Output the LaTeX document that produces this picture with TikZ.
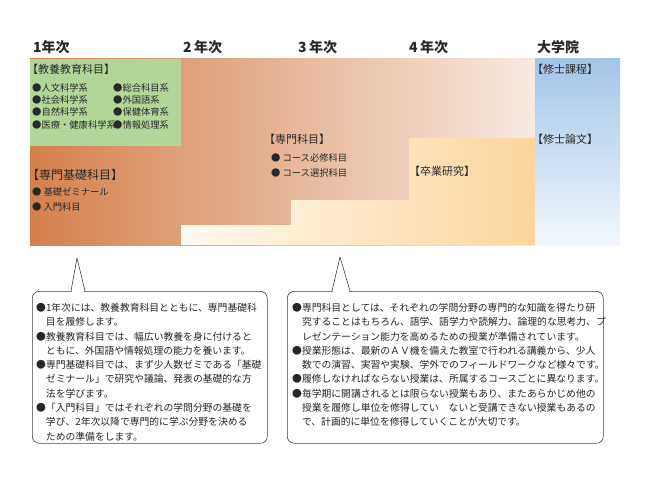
\documentclass[tikz,border=0pt]{standalone}
\usepackage{fontspec}
\setmainfont{Noto Sans CJK JP}
\usetikzlibrary{calc}
\definecolor{txt}{RGB}{40,40,40}
\definecolor{kyoyo}{RGB}{178,214,152}
\definecolor{orgL}{RGB}{213,128,76}
\definecolor{orgR}{RGB}{247,234,225}
\definecolor{crmL}{RGB}{255,249,238}
\definecolor{crmR}{RGB}{252,214,156}
\definecolor{bluT}{RGB}{164,197,232}
\definecolor{bluB}{RGB}{242,247,252}
\tikzset{
	year/.style={anchor=west, inner sep=0pt, text=txt, font=\fontsize{14}{14}\selectfont\bfseries},
	head/.style={anchor=west, inner sep=0pt, text=txt, font=\fontsize{11}{11}\selectfont},
	item/.style={anchor=west, inner sep=0pt, text=txt, font=\fontsize{9.3}{9.3}\selectfont},
	notebox/.style={draw=black!75, line width=0.6pt, rounded corners=7pt, fill=white, inner sep=0pt},
	notetext/.style={anchor=north west, inner sep=0pt, align=left, text=black!85, font=\fontsize{9.8}{14.3}\selectfont}
}
\begin{document}
\begin{tikzpicture}[x=1pt,y=-1pt,line join=round]
	\useasboundingbox (0,0) rectangle (650,500);
	\shade[left color=orgL, right color=orgR] (30,59) rectangle (535,245);
	\shade[left color=crmL, right color=crmR] (181,225) -- (291,225) -- (291,200) -- (409,200) -- (409,138) -- (535,138) -- (535,245) -- (181,245) -- cycle;
	\fill[kyoyo] (30,59) rectangle (181,146);
	\shade[top color=bluT, bottom color=bluB] (535,59) rectangle (620,245);
	\node[year] (y1) at (33,47) {1年次};
	\node[year] (y2) at (183,47) {2\,年次};
	\node[year] (y3) at (298,47) {3\,年次};
	\node[year] (y4) at (409,47) {4\,年次};
	\node[year] (y5) at (537,47) {大学院};
	\node[head] (kyoyo) at (27,69) {【教養教育科目】};
	\node[item] (k1) at (32,88) {●人文科学系};
	\node[item] (k2) at (32,100) {●社会科学系};
	\node[item] (k3) at (32,112) {●自然科学系};
	\node[item] (k4) at (32,125) {●医療・健康科学系};
	\node[item] (k5) at (113,88) {●総合科目系};
	\node[item] (k6) at (113,100) {●外国語系};
	\node[item] (k7) at (113,112) {●保健体育系};
	\node[item] (k8) at (113,125) {●情報処理系};
	\node[head, font=\fontsize{12}{12}\selectfont] (kiso) at (27,175) {【専門基礎科目】};
	\node[item] (s1) at (32,192) {● 基礎ゼミナール};
	\node[item] (s2) at (32,207) {● 入門科目};
	\node[head] (senmon) at (264,139) {【専門科目】};
	\node[item] (c1) at (271,158) {● コース必修科目};
	\node[item] (c2) at (271,173) {● コース選択科目};
	\node[head] (sotsu) at (409,171) {【卒業研究】};
	\node[head] (shushi) at (532,69) {【修士課程】};
	\node[head] (ronbun) at (532,139) {【修士論文】};
	\node[notebox, anchor=north west, minimum width=235pt, minimum height=152pt] (note1) at (32,291) {};
	\node[notebox, anchor=north west, minimum width=316pt, minimum height=152pt] (note2) at (287,291) {};
	\coordinate (tip1) at (77,258);
	\coordinate (tip2) at (340,257);
	\draw[white, line width=1.5pt] ($(note1.north west)+(40,0)$) -- ($(note1.north west)+(52,0)$);
	\draw[black!75, line width=0.6pt] ($(note1.north west)+(39,0)$) -- (tip1) -- ($(note1.north west)+(53,0)$);
	\draw[white, line width=1.5pt] ($(note2.north west)+(46,0)$) -- ($(note2.north west)+(62,0)$);
	\draw[black!75, line width=0.6pt] ($(note2.north west)+(45,0)$) -- (tip2) -- ($(note2.north west)+(63,0)$);
	\node[notetext] (t1) at ($(note1.north west)+(4,12)$) {●1年次には、教養教育科目とともに、専門基礎科\\
		\hspace{1em}目を履修します。\\
		●教養教育科目では、幅広い教養を身に付けると\\
		\hspace{1em}ともに、外国語や情報処理の能力を養います。\\
		●専門基礎科目では、まず少人数ゼミである「基礎\\
		\hspace{1em}ゼミナール」で研究や議論、発表の基礎的な方\\
		\hspace{1em}法を学びます。\\
		●「入門科目」ではそれぞれの学問分野の基礎を\\
		\hspace{1em}学び、2年次以降で専門的に学ぶ分野を決める\\
		\hspace{1em}ための準備をします。};
	\node[notetext] (t2) at ($(note2.north west)+(5,12)$) {●専門科目としては、それぞれの学問分野の専門的な知識を得たり研\\
		\hspace{1em}究することはもちろん、語学、語学力や読解力、論理的な思考力、プ\\
		\hspace{1em}レゼンテーション能力を高めるための授業が準備されています。\\
		●授業形態は、最新のＡＶ機を備えた教室で行われる講義から、少人\\
		\hspace{1em}数での演習、実習や実験、学外でのフィールドワークなど様々です。\\
		●履修しなければならない授業は、所属するコースごとに異なります。\\
		●毎学期に開講されるとは限らない授業もあり、またあらかじめ他の\\
		\hspace{1em}授業を履修し単位を修得してい　ないと受講できない授業もあるの\\
		\hspace{1em}で、計画的に単位を修得していくことが大切です。};
\end{tikzpicture}
\end{document}
